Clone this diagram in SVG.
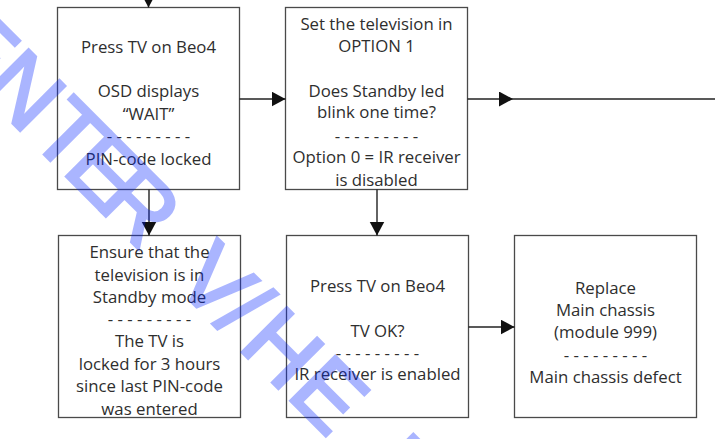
<svg xmlns="http://www.w3.org/2000/svg" width="715" height="439" viewBox="0 0 715 439">
  <style>
    .box { fill: #ffffff; stroke: #4a4a4a; stroke-width: 1.3; }
    .lbl { font-family: "Open Sans", "Noto Sans", sans-serif; font-size: 16.8px; fill: #2e2e2e; text-anchor: middle; }
    .wire { fill: none; stroke: #222222; stroke-width: 1.4; }
    .mark { font-family: "Liberation Sans", Arial, sans-serif; font-size: 92px; fill: #0022ff; stroke: #0022ff; stroke-width: 3; stroke-linejoin: miter; opacity: 0.33; text-anchor: middle; }
  </style>
  <defs>
    <marker id="head" markerUnits="userSpaceOnUse" markerWidth="16" markerHeight="16" refX="14" refY="7.5" orient="auto">
      <path d="M0,0 L14,7.5 L0,15 Z" fill="#111111"/>
    </marker>
  </defs>
  <rect width="715" height="439" fill="#ffffff"/>

  <g id="node-press-wait">
    <rect class="box" x="57.5" y="7.5" width="182" height="182"/>
    <text class="lbl" x="148.5" y="53">Press TV on Beo4</text>
    <text class="lbl" x="148.5" y="97">OSD displays</text>
    <text class="lbl" x="148.5" y="120">“WAIT”</text>
    <text class="lbl" x="148.5" y="142">- - - - - - - - -</text>
    <text class="lbl" x="148.5" y="165">PIN-code locked</text>
  </g>

  <g id="node-option">
    <rect class="box" x="285.5" y="7.5" width="182" height="182"/>
    <text class="lbl" x="376.5" y="30">Set the television in</text>
    <text class="lbl" x="376.5" y="52">OPTION 1</text>
    <text class="lbl" x="376.5" y="97">Does Standby led</text>
    <text class="lbl" x="376.5" y="118">blink one time?</text>
    <text class="lbl" x="376.5" y="142">- - - - - - - - -</text>
    <text class="lbl" x="376.5" y="163">Option 0 = IR receiver</text>
    <text class="lbl" x="376.5" y="186">is disabled</text>
  </g>

  <g id="node-standby">
    <rect class="box" x="58.5" y="235.5" width="182" height="182"/>
    <text class="lbl" x="149.5" y="258">Ensure that the</text>
    <text class="lbl" x="149.5" y="281">television is in</text>
    <text class="lbl" x="149.5" y="303">Standby mode</text>
    <text class="lbl" x="149.5" y="325">- - - - - - - - -</text>
    <text class="lbl" x="149.5" y="347">The TV is</text>
    <text class="lbl" x="149.5" y="370">locked for 3 hours</text>
    <text class="lbl" x="149.5" y="392">since last PIN-code</text>
    <text class="lbl" x="149.5" y="415">was entered</text>
  </g>

  <g id="node-tv-ok">
    <rect class="box" x="286.5" y="235.5" width="182" height="182"/>
    <text class="lbl" x="377.5" y="292">Press TV on Beo4</text>
    <text class="lbl" x="377.5" y="337">TV OK?</text>
    <text class="lbl" x="377.5" y="359">- - - - - - - - -</text>
    <text class="lbl" x="377.5" y="380">IR receiver is enabled</text>
  </g>

  <g id="node-replace">
    <rect class="box" x="514.5" y="235.5" width="182" height="182"/>
    <text class="lbl" x="605.5" y="294">Replace</text>
    <text class="lbl" x="605.5" y="316">Main chassis</text>
    <text class="lbl" x="605.5" y="338">(module 999)</text>
    <text class="lbl" x="605.5" y="361">- - - - - - - - -</text>
    <text class="lbl" x="605.5" y="383">Main chassis defect</text>
  </g>

  <g id="connectors">
    <path class="wire" d="M148.5,-20 V7.5" marker-end="url(#head)"/>
    <path class="wire" d="M239.5,99 H285.5" marker-end="url(#head)"/>
    <path class="wire" d="M467.5,99 H513" marker-end="url(#head)"/>
    <path class="wire" d="M513,99 H715"/>
    <path class="wire" d="M149,189.5 V235.5" marker-end="url(#head)"/>
    <path class="wire" d="M377,189.5 V235.5" marker-end="url(#head)"/>
    <path class="wire" d="M468.5,327 H514.5" marker-end="url(#head)"/>
  </g>

  <!-- diagonal overprint lettering, drawn last so it tints what lies beneath -->
  <text class="mark" transform="rotate(45)" x="18 81 145 195 245 352 392 446 512 630" y="78">ENTERV/HEM</text>
</svg>
